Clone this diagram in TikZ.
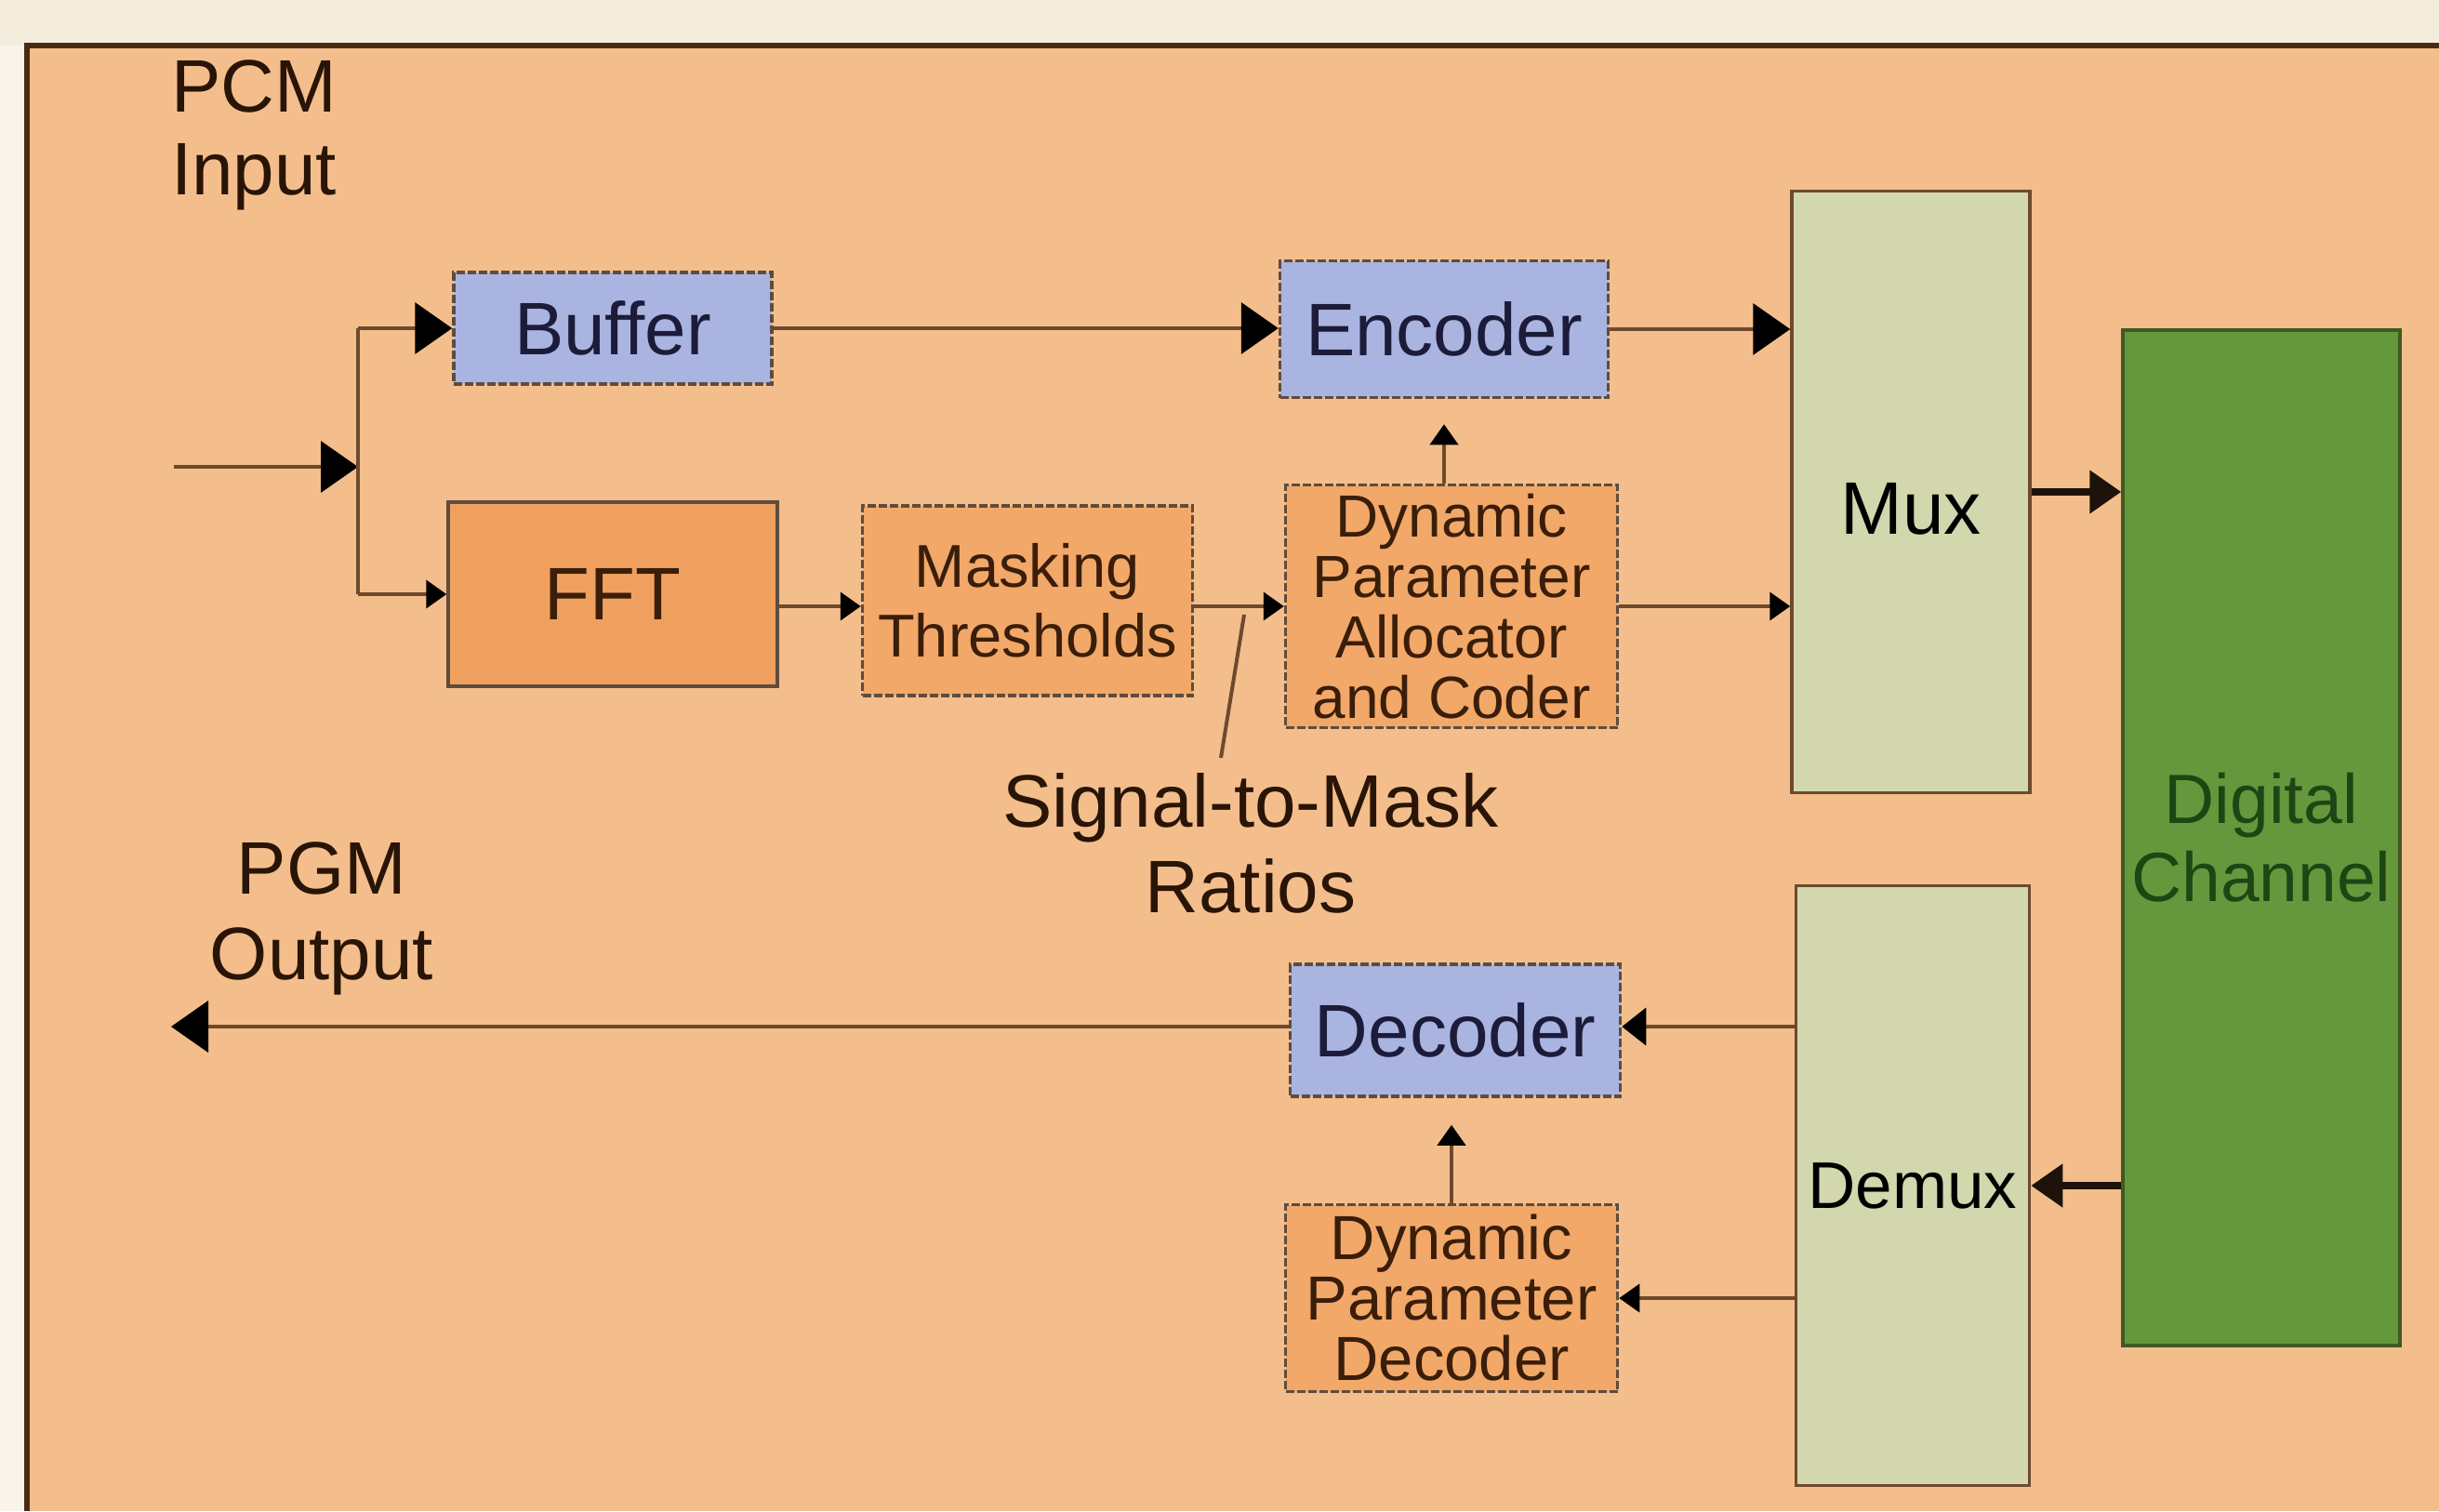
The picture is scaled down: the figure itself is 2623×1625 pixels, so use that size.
\documentclass[tikz,border=0pt]{standalone}
\usepackage{fontspec}
\setmainfont{Liberation Sans}
\usetikzlibrary{arrows.meta}
\definecolor{panel}{HTML}{F4BE8C}
\definecolor{cream}{HTML}{F4ECDC}
\definecolor{frame}{HTML}{4A2A14}
\definecolor{wire}{HTML}{6E4A2C}
\definecolor{boxline}{HTML}{5E4C3E}
\definecolor{lav}{HTML}{AAB4E0}
\definecolor{fftc}{HTML}{F0A05E}
\definecolor{orbox}{HTML}{F2A868}
\definecolor{muxc}{HTML}{D3D7AE}
\definecolor{dcc}{HTML}{65983D}
\definecolor{dcline}{HTML}{3E5A22}
\definecolor{navy}{HTML}{1C1C3A}
\definecolor{brn}{HTML}{3A1E0A}
\definecolor{dgreen}{HTML}{1E4614}
\begin{document}
\begin{tikzpicture}[x=1pt,y=-1pt,
  box/.style={draw=boxline, line width=3.5pt, inner sep=0pt, align=center},
  dbox/.style={box, dash pattern=on 9pt off 3pt},
  bluebox/.style={dbox, fill=lav, text=navy, font=\fontsize{80}{92}\selectfont},
  orbox/.style={dbox, fill=orbox, text=brn},
  tall/.style={box, draw=wire, fill=muxc, text=black},
  wirel/.style={draw=wire, line width=4pt},
  bigarr/.style={wirel, -{Triangle[length=40pt,width=55pt,color=black,fill=black]}},
  midarr/.style={wirel, -{Triangle[length=26pt,width=40pt,color=black,fill=black]}},
  smallarr/.style={wirel, -{Triangle[length=22pt,width=30pt,color=black,fill=black]}},
  thickarr/.style={draw=black!85!brown, line width=8pt, -{Triangle[length=34pt,width=45pt]}},
  lbl/.style={align=center, text=brn!70!black, font=\fontsize{80}{92}\selectfont}]
\useasboundingbox (0,0) rectangle (2623,1625);
\fill[cream!60!white] (0,0) rectangle (2623,1625);
\fill[cream] (0,0) rectangle (2623,49);
\fill[panel] (29,49) rectangle (2623,1625);
\draw[frame, line width=6pt] (29,1625) -- (29,49) -- (2623,49);

% nodes
\node[bluebox, minimum width=342pt, minimum height=120pt] (buf) at (659,353) {Buffer};
\node[orbox, fill=fftc, dash pattern=, minimum width=354pt, minimum height=198pt, font=\fontsize{80}{92}\selectfont] (fft) at (659,639) {FFT};
\node[orbox, minimum width=355pt, minimum height=204pt, font=\fontsize{65}{75}\selectfont] (mask) at (1105,646) {Masking\\Thresholds};
\node[bluebox, minimum width=353pt, minimum height=147pt] (enc) at (1553,354) {Encoder};
\node[orbox, minimum width=357pt, minimum height=261pt, font=\fontsize{64}{65}\selectfont] (dpac) at (1561,652) {Dynamic\\Parameter\\Allocator\\and Coder};
\node[tall, minimum width=256pt, minimum height=647pt] (mux) at (2055,529) {};
\node[font=\fontsize{80}{92}\selectfont] (muxlbl) at (2055,547) {Mux};
\node[box, draw=dcline, fill=dcc, text=dgreen, minimum width=298pt, minimum height=1092pt, font=\fontsize{75}{84}\selectfont] (dc) at (2432,901) {Digital\\Channel};
\node[tall, minimum width=251pt, minimum height=645pt, font=\fontsize{71}{80}\selectfont] (demux) at (2057,1275) {Demux};
\node[bluebox, minimum width=355pt, minimum height=142pt] (dec) at (1565,1108) {Decoder};
\node[orbox, minimum width=357pt, minimum height=201pt, font=\fontsize{67}{65}\selectfont] (dpd) at (1561,1396) {Dynamic\\Parameter\\Decoder};

% labels
\node[lbl, font=\fontsize{80}{89}\selectfont] (pcm) at (273,145) {PCM\\Input};
\node[lbl] (pgm) at (346,988) {PGM\\Output};
\node[lbl] (smr) at (1345,907) {Signal-to-Mask\\Ratios};

% coordinates
\coordinate (in) at (187,502);
\coordinate (J) at (385,502);
\coordinate (row) at (0,652);
\coordinate (out) at (184,1104);
\coordinate (ptrA) at (1313,815);
\coordinate (ptrB) at (1338,661);

% connectors
\draw[bigarr] (in) -- (J);
\draw[wirel] (J |- buf.west) -- (J |- fft.west);
\draw[bigarr] (J |- buf.west) -- (buf.west);
\draw[smallarr] (J |- fft.west) -- (fft.west);
\draw[bigarr] (buf.east) -- (enc.west |- buf.east);
\draw[bigarr] (enc.east) -- (mux.west |- enc.east);
\draw[smallarr] (fft.east |- row) -- (mask.west |- row);
\draw[smallarr] (mask.east |- row) -- (dpac.west |- row);
\draw[smallarr] (dpac.east |- row) -- (mux.west |- row);
\draw[smallarr, shorten >=27pt] (enc.south |- dpac.north) -- (enc.south);
\draw[thickarr] (mux.east) -- (dc.west |- mux.east);
\draw[thickarr] (dc.west |- demux.east) -- (demux.east);
\draw[midarr] (demux.west |- out) -- (dec.east |- out);
\draw[smallarr] (demux.west |- dpd.east) -- (dpd.east);
\draw[smallarr, shorten >=29pt] (dpd.north) -- (dpd.north |- dec.south);
\draw[bigarr] (dec.west |- out) -- (out);
\draw[wirel] (ptrA) -- (ptrB);
\end{tikzpicture}
\end{document}
